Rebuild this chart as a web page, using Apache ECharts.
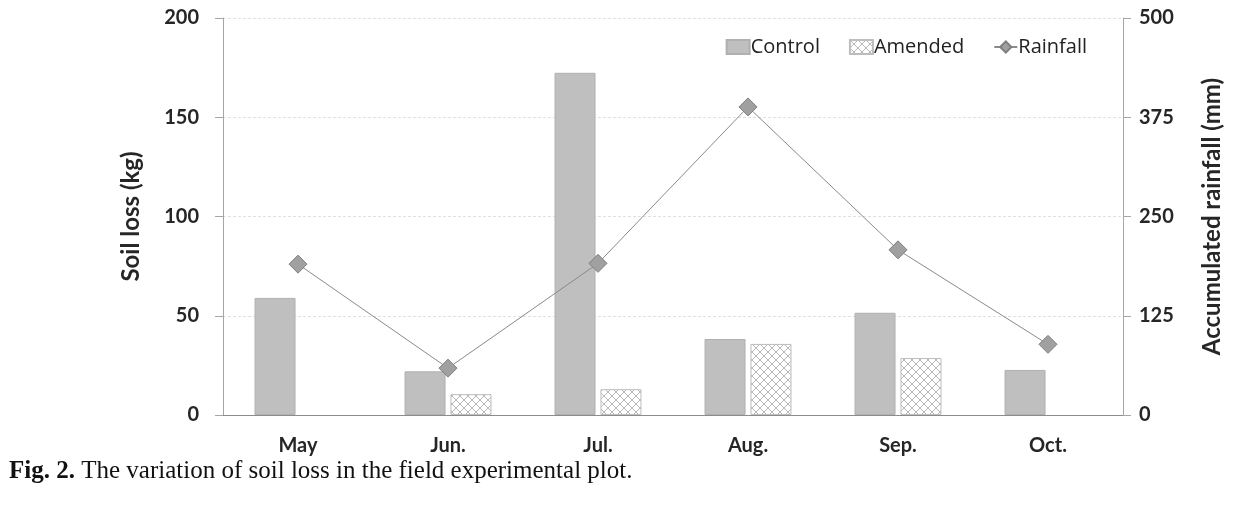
<!DOCTYPE html>
<html>
<head>
<meta charset="utf-8">
<script src="https://cdn.jsdelivr.net/npm/echarts@6/dist/echarts.min.js"></script>
<style>
html,body{margin:0;padding:0;background:#fff;}
#c{width:1242px;height:507px;}
</style>
</head>
<body>
<div id="c"></div>
<script>
const categories = ['May', 'Jun.', 'Jul.', 'Aug.', 'Sep.', 'Oct.'];
const control = [59, 22, 172.4, 38.3, 51.5, 22.7];
const amended = ['-', 10.5, 13, 35.8, 28.7, '-'];
const rainfall = [190, 59, 191, 388, 208, 89];
const leftTicks = [0, 50, 100, 150, 200];
const rightTicks = [0, 125, 250, 375, 500];

// crosshatch pattern for Amended
function makePattern() {
  const c = document.createElement('canvas');
  c.width = 8; c.height = 8;
  const g = c.getContext('2d');
  g.fillStyle = '#ffffff';
  g.fillRect(0, 0, 8, 8);
  g.strokeStyle = '#b8b8b8';
  g.lineWidth = 1;
  g.beginPath();
  g.moveTo(0, 0); g.lineTo(8, 8);
  g.moveTo(8, 0); g.lineTo(0, 8);
  g.stroke();
  return c;
}
const pat = { image: makePattern(), repeat: 'repeat' };

const chart = echarts.init(document.getElementById('c'), null, { renderer: 'canvas' });
const FONT = 'Lato';
chart.setOption({
  animation: false,
  backgroundColor: '#fff',
  grid: { left: 223, right: 119, top: 18, bottom: 92, containLabel: false },
  legend: {
    top: 32, right: 150,
    itemGap: 29,
    itemWidth: 23, itemHeight: 14,
    textStyle: { fontFamily: 'Open Sans', fontSize: 20, color: '#222', padding: [0, 0, 0, -4] },
    data: [
      { name: 'Control', icon: 'rect' },
      { name: 'Amended', icon: 'rect' },
      { name: 'Rainfall' }
    ]
  },
  xAxis: {
    type: 'category',
    data: categories,
    axisLine: { lineStyle: { color: '#8c8c8c', width: 1 } },
    axisTick: { show: false },
    axisLabel: { fontFamily: FONT, fontWeight: 'bold', fontSize: 20, color: '#262626', margin: 21 }
  },
  yAxis: [
    {
      type: 'value', min: 0, max: 200, interval: 50,
      name: 'Soil loss (kg)', nameLocation: 'middle', nameGap: 80,
      nameTextStyle: { fontFamily: FONT, fontWeight: 'bold', fontSize: 24, color: '#262626' },
      axisLine: { show: true, lineStyle: { color: '#a6a6a6' } },
      axisTick: { show: true, length: 8, lineStyle: { color: '#a6a6a6' } },
      axisLabel: { fontFamily: FONT, fontWeight: 'bold', fontSize: 20, color: '#262626', margin: 24,
        formatter: v => leftTicks.includes(v) ? String(v) : '' },
      splitLine: { show: true, lineStyle: { color: '#e0e0e0', type: [3, 2], width: 1 } }
    },
    {
      type: 'value', min: 0, max: 500, interval: 125,
      name: 'Accumulated rainfall (mm)', nameLocation: 'middle', nameGap: 77,
      nameTextStyle: { fontFamily: FONT, fontWeight: 'bold', fontSize: 24, color: '#262626' },
      axisLine: { show: true, lineStyle: { color: '#a6a6a6' } },
      axisTick: { show: true, length: 8, lineStyle: { color: '#a6a6a6' } },
      axisLabel: { fontFamily: FONT, fontWeight: 'bold', fontSize: 20, color: '#262626', margin: 16,
        formatter: v => rightTicks.includes(v) ? String(v) : '' },
      splitLine: { show: false }
    }
  ],
  series: [
    {
      name: 'Control', type: 'bar', data: control, yAxisIndex: 0,
      barWidth: 41, barGap: '12%',
      itemStyle: { color: '#bfbfbf', borderColor: '#b0b0b0', borderWidth: 1 }
    },
    {
      name: 'Amended', type: 'bar', data: amended, yAxisIndex: 0,
      barWidth: 41,
      itemStyle: { color: pat, borderColor: '#bdbdbd', borderWidth: 1 }
    },
    {
      name: 'Rainfall', type: 'line', data: rainfall, yAxisIndex: 1,
      symbol: 'diamond', symbolSize: 18,
      lineStyle: { color: '#8a8a8a', width: 1 },
      itemStyle: { color: '#a0a0a0', borderColor: '#7f7f7f', borderWidth: 1 }
    }
  ],
  graphic: [
    {
      type: 'text', left: 9, top: 459,
      style: {
        text: '{b|Fig. 2.} The variation of soil loss in the field experimental plot.',
        font: '25px "Liberation Serif"', fill: '#111',
        rich: { b: { font: 'bold 25px "Liberation Serif"', fill: '#111' } }
      }
    }
  ]
});
</script>
</body>
</html>
